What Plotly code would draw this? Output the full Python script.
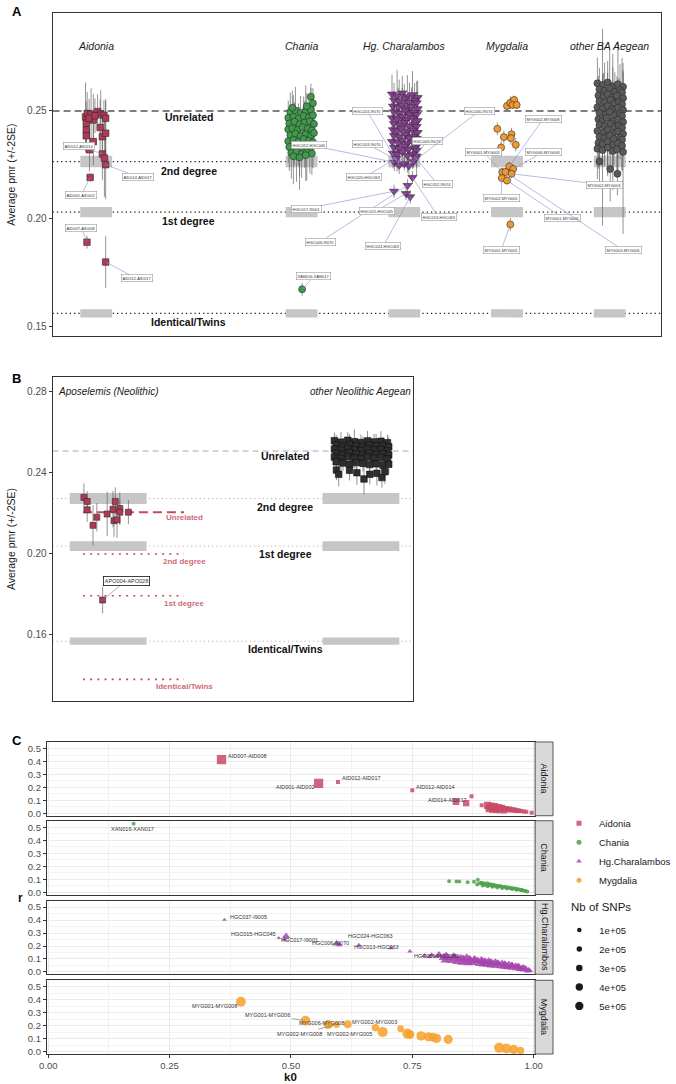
import plotly.graph_objects as go

W, H = 676, 1084
def px(v): return v / W
def py(v): return 1 - v / H
FONT = "Liberation Sans, Arial, Helvetica, sans-serif"

# ======================= DATA =======================
rel_labels = ["Unrelated", "2nd degree", "1st degree", "Identical/Twins"]
rel_ratio = [1.0, 0.90625, 0.8125, 0.625]

# ---------- Panel A (Bronze Age) ----------
a_base = 0.25
a_sites = ["Aidonia", "Chania", "Hg. Charalambos", "Mygdalia", "other BA Aegean"]

aid_jit = [-0.104,-0.088,-0.050,0.013,0.044,0.075,0.092,-0.028,-0.097,-0.097,-0.097,0.038,-0.028,0.060,0.092,0.060,0.080,0.092,-0.066,-0.069,-0.012,-0.059,-0.090,0.092]
aid_pmr = [0.2472,0.2488,0.2485,0.2497,0.2486,0.2480,0.2466,0.2458,0.2443,0.2412,0.2385,0.2423,0.2358,0.2381,0.2397,0.2301,0.2282,0.2251,0.2320,0.2466,0.2478,0.2192,0.1892,0.1800]
aid_err = [0.016,0.010,0.012,0.008,0.011,0.007,0.009,0.012,0.010,0.006,0.008,0.013,0.011,0.009,0.015,0.012,0.018,0.016,0.010,0.009,0.008,0.002,0.003,0.012]

cha_jit = [-0.11,-0.06,-0.01,0.04,0.09,
           -0.13,-0.08,-0.03,0.02,0.07,0.11,
           -0.12,-0.07,-0.02,0.03,0.08,0.12,
           -0.13,-0.09,-0.04,0.01,0.06,0.10,
           -0.11,-0.06,-0.01,0.04,0.09,0.12,
           -0.13,-0.08,-0.03,0.02,0.07,0.11,
           -0.12,-0.07,-0.02,0.03,0.08,
           -0.10,-0.05,0.00,0.05,0.10,
           -0.08,-0.02,0.04,
           0.09,0.11,0.05,-0.09,
           0.005]
cha_pmr = [0.2495,0.2502,0.2490,0.2498,0.2505,
           0.2468,0.2473,0.2465,0.2477,0.2470,0.2480,
           0.2442,0.2450,0.2438,0.2446,0.2452,0.2440,
           0.2415,0.2420,0.2412,0.2425,0.2418,0.2410,
           0.2388,0.2395,0.2384,0.2392,0.2386,0.2398,
           0.2360,0.2366,0.2357,0.2370,0.2362,0.2355,
           0.2333,0.2340,0.2328,0.2337,0.2331,
           0.2306,0.2312,0.2300,0.2309,0.2303,
           0.2290,0.2285,0.2295,
           0.2566,0.2536,0.2522,0.2515,
           0.1674]
cha_err = [0.009,0.011,0.008,0.012,0.010,
           0.008,0.010,0.007,0.009,0.011,0.008,
           0.007,0.009,0.008,0.010,0.006,0.009,
           0.008,0.007,0.010,0.009,0.008,0.011,
           0.009,0.008,0.007,0.010,0.009,0.008,
           0.010,0.009,0.011,0.008,0.007,0.012,
           0.011,0.009,0.013,0.010,0.012,
           0.012,0.014,0.011,0.013,0.010,
           0.013,0.015,0.012,
           0.006,0.007,0.006,0.008,
           0.003]

hgc_jit = [-0.12,-0.07,-0.02,0.03,0.08,0.13,
           -0.10,-0.05,0.00,0.05,0.10,0.12,
           -0.11,-0.06,-0.02,0.03,0.07,0.13,
           -0.10,-0.05,0.01,0.05,0.09,0.12,
           -0.12,-0.07,-0.02,0.02,0.08,0.13,
           -0.10,-0.04,0.00,0.05,0.10,0.12,
           -0.11,-0.07,-0.03,0.03,0.08,0.13,
           -0.10,-0.05,0.01,0.05,0.09,0.12,
           -0.12,-0.06,-0.02,0.03,0.08,0.13,
           -0.10,-0.05,0.00,0.04,0.10,0.12,
           -0.11,-0.07,-0.02,0.03,0.08,0.12,
           -0.097,-0.050,0.000,0.044,0.090,-0.080,0.110,0.079,0.032,-0.100,0.016,0.057]
hgc_pmr = [0.2578,0.2570,0.2583,0.2566,0.2575,0.2562,
           0.2550,0.2545,0.2556,0.2541,0.2549,0.2538,
           0.2522,0.2517,0.2528,0.2513,0.2520,0.2510,
           0.2496,0.2490,0.2501,0.2486,0.2493,0.2483,
           0.2468,0.2462,0.2474,0.2459,0.2466,0.2455,
           0.2441,0.2435,0.2447,0.2431,0.2438,0.2428,
           0.2413,0.2408,0.2419,0.2404,0.2411,0.2400,
           0.2386,0.2380,0.2392,0.2376,0.2383,0.2373,
           0.2358,0.2353,0.2364,0.2349,0.2356,0.2345,
           0.2331,0.2326,0.2337,0.2321,0.2328,0.2318,
           0.2304,0.2299,0.2309,0.2294,0.2301,0.2291,
           0.2262,0.2248,0.2255,0.2245,0.2265,0.2280,0.2282,0.2192,0.2155,0.2128,0.2117,0.2102]
hgc_err = [0.009,0.012,0.008,0.010,0.011,0.008,
           0.008,0.010,0.007,0.009,0.008,0.010,
           0.007,0.009,0.008,0.007,0.009,0.008,
           0.008,0.007,0.009,0.008,0.007,0.009,
           0.007,0.008,0.007,0.009,0.008,0.007,
           0.008,0.007,0.008,0.007,0.009,0.008,
           0.007,0.009,0.007,0.008,0.007,0.008,
           0.008,0.007,0.009,0.007,0.008,0.007,
           0.007,0.008,0.007,0.008,0.009,0.007,
           0.008,0.007,0.008,0.009,0.007,0.008,
           0.007,0.008,0.007,0.008,0.007,0.009,
           0.004,0.004,0.003,0.004,0.003,0.004,0.003,0.003,0.003,0.003,0.003,0.003]

myg_jit = [0.000,0.032,0.070,0.054,0.094,-0.094,-0.031,0.044,0.038,0.085,-0.057,0.023,0.060,-0.047,-0.015,0.044,-0.050,0.000,0.032]
myg_pmr = [0.2523,0.2538,0.2551,0.2528,0.2528,0.2417,0.2379,0.2392,0.2374,0.2343,0.2331,0.2243,0.2231,0.2217,0.2217,0.2209,0.2189,0.2178,0.1974]
myg_err = [0.002,0.003,0.002,0.002,0.002,0.003,0.003,0.003,0.003,0.003,0.003,0.002,0.002,0.002,0.002,0.002,0.002,0.002,0.003]

oth_jit = [-0.12,-0.07,-0.02,0.03,0.08,0.13,
           -0.10,-0.05,0.00,0.05,0.10,0.12,
           -0.11,-0.06,-0.02,0.03,0.07,0.13,
           -0.10,-0.05,0.01,0.05,0.09,0.12,
           -0.12,-0.07,-0.02,0.02,0.08,0.13,
           -0.10,-0.04,0.00,0.05,0.10,0.12,
           -0.11,-0.07,-0.03,0.03,0.08,0.13,
           -0.10,-0.05,0.01,0.05,0.09,0.12,
           -0.12,-0.06,-0.02,0.03,0.08,0.13,
           -0.10,-0.05,0.00,0.04,0.10,0.12,
           -0.11,-0.07,-0.02,0.03,0.08,0.12,
           -0.12,-0.07,-0.02,0.03,0.07,0.13,
           -0.100,0.005,0.075]
oth_pmr = [0.2628,0.2620,0.2632,0.2615,0.2624,0.2612,
           0.2600,0.2594,0.2605,0.2589,0.2597,0.2586,
           0.2572,0.2566,0.2578,0.2562,0.2570,0.2559,
           0.2545,0.2539,0.2551,0.2535,0.2542,0.2531,
           0.2517,0.2511,0.2523,0.2507,0.2515,0.2504,
           0.2490,0.2484,0.2496,0.2480,0.2487,0.2477,
           0.2462,0.2456,0.2468,0.2452,0.2460,0.2449,
           0.2435,0.2429,0.2441,0.2425,0.2432,0.2422,
           0.2407,0.2401,0.2413,0.2397,0.2405,0.2394,
           0.2380,0.2374,0.2386,0.2370,0.2377,0.2367,
           0.2352,0.2346,0.2358,0.2342,0.2350,0.2339,
           0.2325,0.2319,0.2330,0.2314,0.2322,0.2310,
           0.2266,0.2231,0.2209]
oth_err = [0.012,0.026,0.010,0.015,0.020,0.011,
           0.010,0.013,0.018,0.009,0.012,0.016,
           0.009,0.011,0.010,0.014,0.009,0.012,
           0.008,0.010,0.009,0.008,0.011,0.009,
           0.009,0.008,0.010,0.009,0.008,0.010,
           0.008,0.009,0.008,0.010,0.009,0.008,
           0.009,0.008,0.009,0.008,0.010,0.009,
           0.008,0.010,0.008,0.009,0.008,0.011,
           0.010,0.009,0.011,0.008,0.012,0.009,
           0.011,0.013,0.009,0.012,0.010,0.014,
           0.012,0.010,0.016,0.011,0.013,0.012,
           0.014,0.035,0.012,0.018,0.013,0.038,
           0.012,0.015,0.010]

# ---------- Panel B (Neolithic) ----------
b_base = 0.2505
apo_base = 0.2203
b_sites = ["Aposelemis (Neolithic)", "other Neolithic Aegean"]
apo_jit = [-0.096,-0.083,-0.083,-0.060,-0.045,-0.004,0.019,0.028,0.023,0.035,0.046,0.046,0.080,-0.022]
apo_pmr = [0.2276,0.2256,0.2215,0.2138,0.2178,0.2194,0.2218,0.2256,0.2161,0.2166,0.2221,0.2203,0.2203,0.1769]
apo_err = [0.0068,0.0050,0.0060,0.0100,0.0070,0.0110,0.0090,0.0070,0.0080,0.0090,0.0080,0.0060,0.0060,0.0066]

neo_jit = [-0.105,-0.079,-0.052,-0.026,0.000,0.026,0.052,0.079,0.105,
           -0.098,-0.071,-0.045,-0.019,0.008,0.034,0.060,0.087,0.110,
           -0.105,-0.079,-0.052,-0.026,0.000,0.026,0.052,0.079,0.105,
           -0.098,-0.071,-0.045,-0.019,0.008,0.034,0.060,0.087,0.110,
           -0.105,-0.079,-0.052,-0.026,0.000,0.026,0.052,0.079,0.105,
           -0.098,-0.071,-0.045,-0.019,0.008,0.034,0.060,0.087,0.110,
           -0.097,-0.088,-0.045,-0.016,0.012,0.035,0.063,0.083,0.095]
neo_pmr = [0.2556,0.2549,0.2558,0.2551,0.2547,0.2555,0.2550,0.2553,0.2546,
           0.2535,0.2529,0.2538,0.2531,0.2527,0.2536,0.2530,0.2533,0.2526,
           0.2515,0.2509,0.2518,0.2511,0.2507,0.2516,0.2510,0.2513,0.2506,
           0.2495,0.2489,0.2498,0.2491,0.2487,0.2496,0.2490,0.2493,0.2486,
           0.2475,0.2469,0.2478,0.2471,0.2467,0.2476,0.2470,0.2473,0.2466,
           0.2452,0.2446,0.2440,0.2448,0.2444,0.2438,0.2442,0.2436,0.2440,
           0.2411,0.2390,0.2410,0.2398,0.2367,0.2390,0.2395,0.2374,0.2403]
neo_err = [0.004,0.005,0.004,0.006,0.004,0.005,0.004,0.005,0.004,
           0.005,0.004,0.005,0.004,0.005,0.004,0.006,0.004,0.005,
           0.004,0.005,0.004,0.005,0.004,0.006,0.004,0.005,0.004,
           0.005,0.004,0.006,0.004,0.005,0.004,0.005,0.004,0.005,
           0.004,0.006,0.004,0.005,0.004,0.005,0.004,0.006,0.004,
           0.005,0.004,0.005,0.006,0.004,0.005,0.004,0.005,0.005,
           0.005,0.006,0.005,0.006,0.0077,0.005,0.006,0.005,0.006]

# ---------- Panel C (k0 vs r) ----------
c_sites = ["Aidonia", "Chania", "Hg.Charalambos", "Mygdalia"]
snp_breaks = [100000, 200000, 300000, 400000, 500000]
snp_labels = ["1e+05", "2e+05", "3e+05", "4e+05", "5e+05"]

aid_k0 = [0.357,0.557,0.597,0.750,0.840,0.861,0.872,0.893,0.905,0.910,0.913,0.917,0.920,0.924,0.928,0.931,0.935,0.939,0.942,0.946,0.950,0.954,0.958,0.962,0.966,0.970,0.975,0.980,0.985,0.996,0.908,0.915,0.922,0.930,0.940]
aid_r = [0.415,0.232,0.243,0.178,0.090,0.080,0.133,0.062,0.062,0.050,0.058,0.045,0.055,0.040,0.048,0.038,0.042,0.033,0.036,0.030,0.032,0.027,0.028,0.024,0.022,0.020,0.018,0.015,0.012,0.005,0.035,0.030,0.028,0.025,0.022]
aid_snp = [480000,470000,60000,50000,250000,220000,60000,70000,280000,300000,260000,240000,250000,230000,220000,200000,210000,190000,180000,170000,160000,150000,140000,130000,120000,110000,90000,80000,60000,40000,260000,240000,220000,200000,180000]

cha_k0 = [0.176,0.826,0.841,0.847,0.864,0.877,0.885,0.890,0.884,0.893,0.897,0.900,0.904,0.908,0.911,0.915,0.918,0.922,0.925,0.929,0.932,0.936,0.940,0.943,0.947,0.950,0.954,0.958,0.961,0.965,0.968,0.972,0.975,0.979,0.983,0.987,0.895,0.905,0.915,0.925,0.935,0.945,0.955,0.965,0.975]
cha_r = [0.528,0.085,0.082,0.082,0.076,0.080,0.095,0.070,0.060,0.072,0.065,0.058,0.066,0.055,0.060,0.052,0.056,0.048,0.050,0.045,0.047,0.040,0.042,0.036,0.038,0.032,0.033,0.028,0.029,0.024,0.022,0.018,0.016,0.012,0.009,0.005,0.052,0.046,0.042,0.037,0.033,0.028,0.024,0.019,0.014]
cha_snp = [30000,30000,35000,30000,40000,50000,50000,60000,60000,70000,65000,70000,75000,70000,65000,70000,60000,65000,60000,55000,60000,55000,50000,55000,50000,45000,50000,45000,40000,45000,40000,35000,40000,35000,30000,30000,60000,55000,50000,50000,45000,45000,40000,40000,35000]

hgc_k0 = [0.363,0.475,0.490,0.487,0.594,0.600,0.640,0.706,0.745,0.775,0.790,0.800,0.785,
          0.815,0.825,0.835,0.845,0.855,0.862,0.870,0.878,0.885,0.892,0.900,0.907,0.914,0.921,0.928,0.935,0.942,0.949,0.956,0.963,0.970,0.977,0.984,0.990,
          0.818,0.830,0.842,0.852,0.866,0.875,0.888,0.896,0.904,0.912,0.920,0.930,0.938,0.946,0.954,0.962,0.970,0.978,0.986,
          0.805,0.820,0.838,0.850,0.868,0.880,0.895,0.910,0.925,0.940,0.955,0.968,0.980,0.860,0.900,0.945,0.975,0.992]
hgc_r = [0.403,0.262,0.275,0.250,0.218,0.210,0.205,0.185,0.159,0.125,0.130,0.120,0.118,
         0.110,0.105,0.115,0.100,0.098,0.108,0.090,0.095,0.085,0.088,0.078,0.080,0.070,0.072,0.062,0.064,0.055,0.056,0.047,0.045,0.038,0.032,0.025,0.015,
         0.090,0.085,0.078,0.072,0.068,0.070,0.062,0.058,0.055,0.050,0.046,0.042,0.038,0.034,0.030,0.026,0.020,0.014,0.006,
         0.128,0.122,0.110,0.105,0.098,0.088,0.082,0.074,0.066,0.058,0.050,0.042,0.030,0.075,0.062,0.040,0.022,0.008]
hgc_snp = [40000,50000,220000,90000,200000,120000,100000,90000,80000,100000,110000,100000,90000,
           300000,280000,320000,290000,310000,300000,270000,300000,290000,280000,300000,270000,260000,280000,250000,260000,240000,250000,230000,220000,200000,190000,170000,150000,
           250000,260000,240000,250000,230000,240000,220000,230000,210000,220000,200000,190000,180000,170000,160000,150000,140000,120000,100000,
           280000,300000,290000,300000,280000,290000,270000,260000,250000,240000,230000,220000,200000,250000,240000,210000,180000,120000]

myg_k0 = [0.397,0.530,0.577,0.594,0.617,0.674,0.689,0.726,0.740,0.745,0.768,0.783,0.792,0.800,0.824,0.929,0.944,0.959,0.973]
myg_r = [0.385,0.240,0.210,0.208,0.212,0.185,0.153,0.178,0.140,0.133,0.122,0.115,0.112,0.103,0.095,0.032,0.025,0.018,0.010]
myg_snp = [350000,330000,300000,150000,220000,200000,380000,160000,370000,300000,320000,300000,280000,310000,300000,380000,350000,300000,200000]

# ======================= FIGURE =======================
fig = go.Figure()
shapes, annos = [], []

ERRC = "rgba(95,95,95,0.85)"
OUTL = "#2b2b2b"

def add_points(xa, ya, pos, jit, vals, err, symbol, color, size, line_color=OUTL, errc=ERRC):
    fig.add_trace(go.Scatter(
        x=[pos + j for j in jit], y=vals, mode="markers", xaxis=xa, yaxis=ya,
        marker=dict(symbol=symbol, color=color, size=size, line=dict(color=line_color, width=0.6)),
        error_y=dict(type="data", array=err, color=errc, thickness=0.8, width=0),
        showlegend=False, hoverinfo="skip"))

def label_box(xa, ya, x, y, bx, by, text, border="#9a9a9a", fsize=4, bw=0.6, arrowc="#8c8cd4"):
    annos.append(dict(xref=xa, yref=ya, axref=xa, ayref=ya, x=x, y=y, ax=bx, ay=by,
                      text=text, showarrow=True, arrowhead=0, arrowwidth=0.6, arrowcolor=arrowc,
                      standoff=0, font=dict(size=fsize, color="#333", family=FONT),
                      bgcolor="white", bordercolor=border, borderwidth=bw, borderpad=1))

# ---------------- Panel A ----------------
a_pos = {"Aidonia": 1, "Chania": 3, "Hg. Charalambos": 4, "Mygdalia": 5, "other BA Aegean": 6}
a_band = [0, 0.0027, 0.0024, 0.0019]
for k, ratio in enumerate(rel_ratio):
    yv = a_base * ratio
    if k > 0:
        for s in a_sites:
            shapes.append(dict(type="rect", xref="x", yref="y", x0=a_pos[s] - 0.155, x1=a_pos[s] + 0.155,
                               y0=yv - a_band[k], y1=yv + a_band[k], fillcolor="#C6C6C6",
                               line=dict(width=0), layer="below"))
    shapes.append(dict(type="line", xref="x domain", yref="y", x0=0, x1=1, y0=yv, y1=yv, layer="below",
                       line=dict(color="#555" if k == 0 else "#1f1f1f", width=1.6 if k == 0 else 1.3,
                                 dash="7px,4px" if k == 0 else "1.3px,3px")))
a_lab_shift = [-6, -9, -9, -9]
for k, lab in enumerate(rel_labels):
    annos.append(dict(xref="x", yref="y", x=1.9, y=a_base * rel_ratio[k], yshift=a_lab_shift[k],
                      text="<b>%s</b>" % lab, showarrow=False,
                      font=dict(size=10.5, color="#111", family=FONT)))
for s in a_sites:
    annos.append(dict(xref="x", yref="y", x=a_pos[s], y=0.2800, text="<i>%s</i>" % s, showarrow=False,
                      font=dict(size=10.5, color="#1a1a1a", family=FONT)))

a_sets = {
    "Aidonia": (aid_jit, aid_pmr, aid_err, "square", "#B03A56", 6.5),
    "Chania": (cha_jit, cha_pmr, cha_err, "circle", "#3F9A4A", 7),
    "Hg. Charalambos": (hgc_jit, hgc_pmr, hgc_err, "triangle-down", "#8E3C9A", 8),
    "Mygdalia": (myg_jit, myg_pmr, myg_err, "circle", "#F29A2E", 7),
    "other BA Aegean": (oth_jit, oth_pmr, oth_err, "circle", "#595959", 7),
}
for s in a_sites:
    j, v, e, sym, col, sz = a_sets[s]
    add_points("x", "y", a_pos[s], j, v, e, sym, col, sz)

# labels (site, index, text, box x, box y)
a_labels = [
    ("Aidonia", 15, "AID012-AID014", 0.837, 0.2338),
    ("Aidonia", 17, "AID014-AID017", 1.403, 0.2196),
    ("Aidonia", 21, "AID001-AID002", 0.856, 0.2112),
    ("Aidonia", 22, "AID007-AID008", 0.856, 0.1958),
    ("Aidonia", 23, "AID012-AID017", 1.393, 0.1724),
    ("Chania", 52, "XAN016-XAN017", 3.119, 0.1733),
    ("Hg. Charalambos", 66, "HGC052-HGC046", 3.072, 0.2343),
    ("Hg. Charalambos", 75, "HGC017-I9001", 3.043, 0.2047),
    ("Hg. Charalambos", 74, "HGC006-I9070", 3.185, 0.1895),
    ("Hg. Charalambos", 67, "HGC024-I9070", 3.638, 0.2500),
    ("Hg. Charalambos", 68, "HGC053-I9070", 3.638, 0.2346),
    ("Hg. Charalambos", 71, "HGC020-HGC063", 3.607, 0.2192),
    ("Hg. Charalambos", 69, "HGC063-I9073", 4.221, 0.2362),
    ("Hg. Charalambos", 70, "HGC040-I9074", 4.730, 0.2500),
    ("Hg. Charalambos", 72, "HGC052-I9074", 4.324, 0.2162),
    ("Hg. Charalambos", 76, "HGC015-HGC045", 3.730, 0.2038),
    ("Hg. Charalambos", 73, "HGC013-HGC063", 4.333, 0.2007),
    ("Hg. Charalambos", 77, "HGC024-HGC063", 3.796, 0.1874),
    ("Mygdalia", 11, "MYG002-MYG008", 5.353, 0.2463),
    ("Mygdalia", 13, "MYG001-MYG003", 4.771, 0.2309),
    ("Mygdalia", 12, "MYG006-MYG008", 5.353, 0.2309),
    ("Mygdalia", 16, "MYG002-MYG005", 4.943, 0.2097),
    ("Mygdalia", 15, "MYG002-MYG003", 5.949, 0.2158),
    ("Mygdalia", 17, "MYG001-MYG006", 5.542, 0.2005),
    ("Mygdalia", 18, "MYG001-MYG005", 4.943, 0.1855),
    ("Mygdalia", 14, "MYG003-MYG006", 6.130, 0.1855),
]
for s, i, t, bx, by in a_labels:
    j, v, _, _, _, _ = a_sets[s]
    label_box("x", "y", a_pos[s] + j[i], v[i], bx, by, t)

# ---------------- Panel B ----------------
b_pos = {"Aposelemis (Neolithic)": 1, "other Neolithic Aegean": 2}
b_band = [0, 0.0027, 0.0024, 0.0018]
for k, ratio in enumerate(rel_ratio):
    yv = b_base * ratio
    if k > 0:
        for s in b_sites:
            shapes.append(dict(type="rect", xref="x2", yref="y2", x0=b_pos[s] - 0.152, x1=b_pos[s] + 0.152,
                               y0=yv - b_band[k], y1=yv + b_band[k], fillcolor="#C6C6C6",
                               line=dict(width=0), layer="below"))
    shapes.append(dict(type="line", xref="x2 domain", yref="y2", x0=0, x1=1, y0=yv, y1=yv, layer="below",
                       line=dict(color="#aaaaaa", width=1 if k == 0 else 0.9,
                                 dash="6px,4px" if k == 0 else "1.2px,3px")))
    ya = apo_base * ratio
    shapes.append(dict(type="line", xref="x2", yref="y2", x0=0.9, x1=1.3, y0=ya, y1=ya, layer="below",
                       line=dict(color="#C8485C", width=2 if k == 0 else 1.6,
                                 dash="9px,5px" if k == 0 else "2px,5.2px")))
b_lab_shift = [-5, -8.5, -8, -8]
r_lab_shift = [-5, -7.7, -7.6, -7]
for k, lab in enumerate(rel_labels):
    annos.append(dict(xref="x2", yref="y2", x=1.7, y=b_base * rel_ratio[k], yshift=b_lab_shift[k],
                      text="<b>%s</b>" % lab, showarrow=False,
                      font=dict(size=10.5, color="#111", family=FONT)))
    annos.append(dict(xref="x2", yref="y2", x=1.30, y=apo_base * rel_ratio[k], yshift=r_lab_shift[k],
                      text="<b>%s</b>" % lab, showarrow=False,
                      font=dict(size=8, color="#D06A78", family=FONT)))
for s in b_sites:
    annos.append(dict(xref="x2", yref="y2", x=b_pos[s], y=0.2800, text="<i>%s</i>" % s, showarrow=False,
                      font=dict(size=10, color="#1a1a1a", family=FONT)))
add_points("x2", "y2", 1, apo_jit, apo_pmr, apo_err, "square", "#B03A56", 6)
add_points("x2", "y2", 2, neo_jit, neo_pmr, neo_err, "square", "#2e2e2e", 6.5, line_color="#111")
label_box("x2", "y2", 1 + apo_jit[13], apo_pmr[13], 1.071, 0.1865, "APO004-APO028",
          border="#111", fsize=5.5, bw=0.8, arrowc="#777")

# ---------------- Panel C ----------------
c_dom = [(744, 818), (823, 897), (903, 977), (983, 1057)]
c_data = {
    "Aidonia": (aid_k0, aid_r, aid_snp, "square", "#C94A66"),
    "Chania": (cha_k0, cha_r, cha_snp, "circle", "#4CA24E"),
    "Hg.Charalambos": (hgc_k0, hgc_r, hgc_snp, "triangle-up", "#A646AD"),
    "Mygdalia": (myg_k0, myg_r, myg_snp, "circle", "#F7A12B"),
}
SREF = 500000 / 70.0
sym_scale = {"square": 1.55, "circle": 1.0, "triangle-up": 1.0}   # ggplot squares draw smaller
for i, s in enumerate(c_sites):
    k0, r, snp, sym, col = c_data[s]
    fig.add_trace(go.Scatter(
        x=k0, y=r, mode="markers", xaxis="x%d" % (i + 3), yaxis="y%d" % (i + 3),
        marker=dict(symbol=sym, color=col, opacity=0.85, size=snp, sizemode="area",
                    sizeref=SREF * sym_scale[sym], sizemin=2, line=dict(width=0)),
        showlegend=False, hoverinfo="skip"))
    t, b = c_dom[i]
    shapes.append(dict(type="rect", xref="paper", yref="paper", x0=px(544), x1=px(562.5),
                       y0=py(b), y1=py(t), fillcolor="#D9D9D9", line=dict(color="#333", width=0.8)))
    annos.append(dict(xref="paper", yref="paper", x=px(553.5), y=py((t + b) / 2), text=s, textangle=90,
                      xanchor="center", yanchor="middle",
                      showarrow=False, font=dict(size=9, color="#1a1a1a", family=FONT)))
    # legend entries (colour key)
    fig.add_trace(go.Scatter(x=[None], y=[None], mode="markers", name=s, legend="legend",
                             xaxis="x6", yaxis="y6",
                             marker=dict(symbol=sym, color=col, opacity=0.85, size=5)))
leg_sizes = [4.5, 5.5, 6.5, 7.4, 8.3]
for lab, sz in zip(snp_labels, leg_sizes):
    fig.add_trace(go.Scatter(x=[None], y=[None], mode="markers", name=lab, legend="legend2",
                             xaxis="x6", yaxis="y6", marker=dict(color="#1a1a1a", size=sz)))
annos.append(dict(xref="paper", yref="paper", x=px(579), y=py(910), xanchor="left", yanchor="middle",
                  text="Nb of SNPs", showarrow=False, font=dict(size=11.5, color="#1a1a1a", family=FONT)))

# labels in C: (facet, text, x, y, xanchor)
c_labels = [
    (0, "AID007-AID008", 0.366, 0.440, "left"),
    (0, "AID001-AID002", 0.510, 0.206, "center"),
    (0, "AID012-AID017", 0.645, 0.271, "center"),
    (0, "AID012-AID014", 0.797, 0.206, "center"),
    (0, "AID014-AID017", 0.822, 0.104, "center"),
    (1, "XAN016-XAN017", 0.174, 0.487, "center"),
    (2, "HGC037-I9005", 0.371, 0.423, "left"),
    (2, "HGC015-HGC045", 0.422, 0.295, "center"),
    (2, "HGC017-I9001", 0.517, 0.249, "center"),
    (2, "HGC006-I9070", 0.582, 0.223, "center"),
    (2, "HGC024-HGC063", 0.664, 0.274, "center"),
    (2, "HGC013-HGC063", 0.677, 0.190, "center"),
    (2, "HGC050-HGC080", 0.800, 0.120, "center"),
    (3, "MYG001-MYG008", 0.343, 0.350, "center"),
    (3, "MYG006-MYG008", 0.564, 0.223, "center"),
    (3, "MYG002-MYG003", 0.672, 0.233, "center"),
    (3, "MYG002-MYG005", 0.620, 0.140, "center"),
]
for f, t, x, y, xa in c_labels:
    annos.append(dict(xref="x%d" % (f + 3), yref="y%d" % (f + 3), x=x, y=y, text=t, xanchor=xa,
                      showarrow=False, font=dict(size=5.5, color="#333", family=FONT)))
# repelled labels with segments (facet, text, point index, label x, label y)
c_seg = [(3, "MYG001-MYG006", 1, 0.452, 0.282), (3, "MYG002-MYG008", 3, 0.517, 0.140)]
for f, t, i, lx, ly in c_seg:
    k0, r, _, _, _ = c_data[c_sites[f]]
    xa, ya = "x%d" % (f + 3), "y%d" % (f + 3)
    annos.append(dict(xref=xa, yref=ya, axref=xa, ayref=ya, x=k0[i], y=r[i], ax=lx, ay=ly, text=t,
                      showarrow=True, arrowhead=0, arrowwidth=0.6, arrowcolor="#666", standoff=3,
                      font=dict(size=5.5, color="#333", family=FONT)))

# panel letters & axis titles
for t, y in (("A", 2), ("B", 370), ("C", 733)):
    annos.append(dict(xref="paper", yref="paper", x=px(2), y=py(y), xanchor="left", yanchor="top",
                      text="<b>%s</b>" % t, showarrow=False, font=dict(size=13, color="#000", family=FONT)))
annos.append(dict(xref="paper", yref="paper", x=px(13), y=py(900), text="<b>r</b>", showarrow=False,
                  xanchor="center", yanchor="middle", font=dict(size=12, color="#111", family=FONT)))
annos.append(dict(xref="paper", yref="paper", x=px(292), y=py(1079.5), text="<b>k0</b>", showarrow=False,
                  xanchor="center", yanchor="middle", font=dict(size=11.5, color="#111", family=FONT)))

# ---------------- layout ----------------
tickf = dict(size=10, color="#4d4d4d", family=FONT)
tickc = dict(size=9.5, color="#4d4d4d", family=FONT)
def pmr_yaxis(dom, rng, vals, anchor):
    return dict(domain=dom, range=rng, tickvals=vals, ticktext=["%.2f" % v for v in vals],
                ticks="outside", ticklen=3, tickcolor="#333", tickfont=tickf, showgrid=False,
                zeroline=False, showline=True, linecolor="#333", linewidth=1, mirror=True, anchor=anchor,
                title=dict(text="Average pmr (+/-2SE)", font=dict(size=10.5, color="#1a1a1a", family=FONT),
                           standoff=9))
layout = dict(
    width=W, height=H, margin=dict(l=0, r=0, t=0, b=0), autosize=False,
    paper_bgcolor="white", plot_bgcolor="white", font=dict(family=FONT),
    xaxis=dict(domain=[px(46), px(674)], range=[0.575, 6.5], showticklabels=False, ticks="",
               showgrid=False, zeroline=False, showline=True, linecolor="#333", linewidth=1, mirror=True,
               anchor="y"),
    yaxis=pmr_yaxis([py(337), py(13)], [0.1457, 0.2954], [0.15, 0.20, 0.25], "x"),
    xaxis2=dict(domain=[px(46), px(418)], range=[0.78, 2.206], showticklabels=False, ticks="",
                showgrid=False, zeroline=False, showline=True, linecolor="#333", linewidth=1, mirror=True,
                anchor="y2"),
    yaxis2=pmr_yaxis([py(703), py(378)], [0.127, 0.2871], [0.16, 0.20, 0.24, 0.28], "x2"),
    legend=dict(x=px(569), y=py(811), xanchor="left", yanchor="top", bgcolor="rgba(0,0,0,0)",
                font=dict(size=9.5, color="#1a1a1a", family=FONT), itemsizing="trace", tracegroupgap=0),
    legend2=dict(x=px(569), y=py(918), xanchor="left", yanchor="top", bgcolor="rgba(0,0,0,0)",
                 font=dict(size=9.5, color="#1a1a1a", family=FONT), itemsizing="trace", tracegroupgap=0),
    shapes=shapes, annotations=annos,
)
for i in range(4):
    t, b = c_dom[i]
    last = (i == 3)
    layout["xaxis%d" % (i + 3)] = dict(
        domain=[px(40), px(544)], range=[-0.003, 1.003], anchor="y%d" % (i + 3), tick0=0, dtick=0.25,
        tickformat=".2f", showticklabels=last, ticks="outside" if last else "", ticklen=3, tickcolor="#333",
        tickfont=tickc, showgrid=True, gridcolor="#EBEBEB", gridwidth=0.8,
        minor=dict(dtick=0.125, showgrid=True, gridcolor="#F3F3F3", gridwidth=0.5),
        zeroline=False, showline=True, mirror=True, linecolor="#333", linewidth=0.8)
    layout["yaxis%d" % (i + 3)] = dict(
        domain=[py(b), py(t)], range=[-0.018, 0.551], anchor="x%d" % (i + 3), tick0=0, dtick=0.1,
        tickformat=".1f", ticks="outside", ticklen=3, tickcolor="#333", tickfont=tickc,
        showgrid=True, gridcolor="#EBEBEB", gridwidth=0.8,
        minor=dict(dtick=0.05, showgrid=True, gridcolor="#F3F3F3", gridwidth=0.5),
        zeroline=False, showline=True, mirror=True, linecolor="#333", linewidth=0.8)
fig.update_layout(**layout)
fig.write_html("out.html", config={"displayModeBar": False},
               post_script="document.body.style.margin='0px';")
